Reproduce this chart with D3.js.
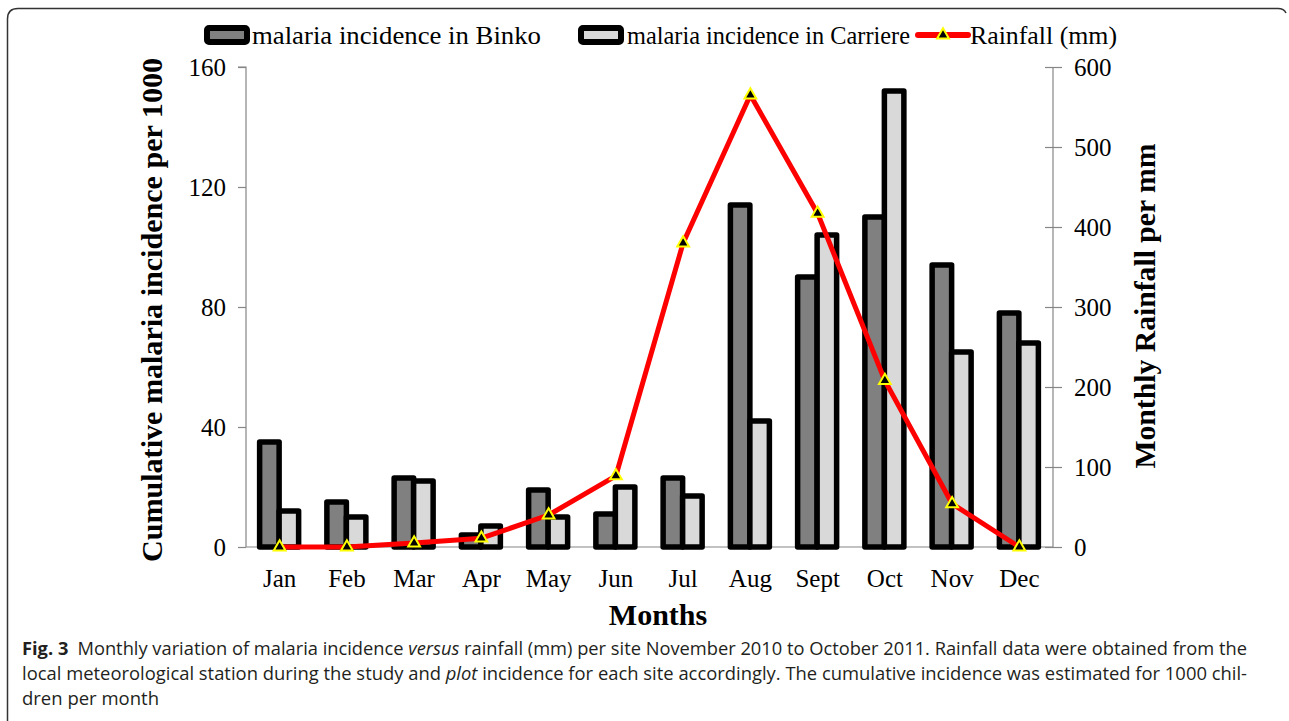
<!DOCTYPE html>
<html><head><meta charset="utf-8">
<script src="https://cdn.jsdelivr.net/npm/d3@7"></script>
<style>body{margin:0;background:#fff}svg{display:block}</style>
</head><body>
<svg id="c" width="1289" height="721"></svg>
<script>
const months = ["Jan","Feb","Mar","Apr","May","Jun","Jul","Aug","Sept","Oct","Nov","Dec"];
const binko = [35,15,23,4,19,11,23,114,90,110,94,78];
const carriere = [12,10,22,7,10,20,17,42,104,152,65,68];
const rainfall = [0,0,5,11,40,89,380,565,417,208,54,0];
const leftTicks = [0,40,80,120,160];
const rightTicks = [0,100,200,300,400,500,600];
const seriesNames = ["malaria incidence in Binko","malaria incidence in Carriere","Rainfall (mm)"];

const svg = d3.select("#c");
const serif = "'Liberation Serif','Times New Roman',serif";
const L = 246, R = 1053, T = 67, B = 547;

const x = d3.scaleBand().domain(months).range([L, R]).padding(0);
const sub = d3.scaleBand().domain(["b","c"]).range([-20, 19]);
const y = d3.scaleLinear().domain([0,160]).range([B, T]);
const y2 = d3.scaleLinear().domain([0,600]).range([B, T]);

// frame
svg.append("path").attr("d","M7.5,721 L7.5,19 Q7.5,8.5 18,8.5 L1278,8.5 Q1284,8.5 1286,13")
  .attr("fill","none").attr("stroke","#333").attr("stroke-width",1.5);

// axes
const axColor = "#868686";
const gl = svg.append("g").attr("transform",`translate(${L},0)`)
  .call(d3.axisLeft(y).tickValues(leftTicks).tickSize(8).tickPadding(12));
const gr = svg.append("g").attr("transform",`translate(${R},0)`)
  .call(d3.axisRight(y2).tickValues(rightTicks).tickSize(9).tickPadding(12));
gr.selectAll(".tick line").attr("x1",-8);
const gb = svg.append("g").attr("transform",`translate(0,${B})`)
  .call(d3.axisBottom(x).tickSize(0).tickPadding(22));
[gl,gr,gb].forEach(g=>{
  g.select(".domain").attr("stroke",axColor).attr("stroke-width",1.2);
  g.selectAll(".tick line").attr("stroke",axColor).attr("stroke-width",1.2);
  g.selectAll(".tick text").attr("font-family",serif).attr("font-size",25).attr("fill","#000");
});
gl.select(".domain").attr("d",`M-8,${T}H0V${B}`);
gr.select(".domain").attr("d",`M0,${T}V${B}`);
gb.select(".domain").attr("d",`M${L},0H${R}`);
gb.selectAll(".tick text").attr("dy","0.71em");

// bars
const barStroke = 5.5;
svg.append("g").selectAll("rect").data(binko).join("rect")
  .attr("x",(d,i)=>x(months[i])+x.bandwidth()/2+sub("b"))
  .attr("width",sub.bandwidth())
  .attr("y",d=>y(d)).attr("height",d=>B-y(d))
  .attr("fill","#808080").attr("stroke","#000").attr("stroke-width",barStroke).attr("stroke-linejoin","round");
svg.append("g").selectAll("rect").data(carriere).join("rect")
  .attr("x",(d,i)=>x(months[i])+x.bandwidth()/2+sub("c"))
  .attr("width",sub.bandwidth())
  .attr("y",d=>y(d)).attr("height",d=>B-y(d))
  .attr("fill","#d9d9d9").attr("stroke","#000").attr("stroke-width",barStroke).attr("stroke-linejoin","round");

// rainfall line
const line = d3.line().x((d,i)=>x(months[i])+x.bandwidth()/2).y(d=>y2(d));
svg.append("path").datum(rainfall).attr("d",line)
  .attr("fill","none").attr("stroke","#ff0000").attr("stroke-width",5).attr("stroke-linejoin","round");
const tri = d3.symbol().type(d3.symbolTriangle).size(60);
svg.append("g").selectAll("path").data(rainfall).join("path")
  .attr("d",tri)
  .attr("transform",(d,i)=>`translate(${x(months[i])+x.bandwidth()/2},${y2(d)})`)
  .attr("fill","#000").attr("stroke","#ffff00").attr("stroke-width",2);

// axis titles
svg.append("text").attr("transform","translate(162,310) rotate(-90)")
  .attr("text-anchor","middle").attr("font-family",serif).attr("font-weight","bold").attr("font-size",30)
  .attr("textLength",504).attr("lengthAdjust","spacingAndGlyphs")
  .text("Cumulative malaria incidence per 1000");
svg.append("text").attr("transform","translate(1155,306) rotate(-90)")
  .attr("text-anchor","middle").attr("font-family",serif).attr("font-weight","bold").attr("font-size",30)
  .attr("textLength",325).attr("lengthAdjust","spacingAndGlyphs")
  .text("Monthly Rainfall per mm");
svg.append("text").attr("x",658).attr("y",625)
  .attr("text-anchor","middle").attr("font-family",serif).attr("font-weight","bold").attr("font-size",30)
  .text("Months");

// legend
const lg = svg.append("g");
const legendItems = [
  {name:seriesNames[0], sx:207, tx:252, tl:289, fill:"#808080", kind:"bar"},
  {name:seriesNames[1], sx:581, tx:627, tl:283, fill:"#d9d9d9", kind:"bar"},
  {name:seriesNames[2], sx:918, tx:970, tl:147, kind:"line"}
];
legendItems.forEach(it=>{
  if(it.kind==="bar"){
    lg.append("rect").attr("x",it.sx).attr("y",28).attr("width",40).attr("height",14).attr("rx",2)
      .attr("fill",it.fill).attr("stroke","#000").attr("stroke-width",6);
  } else {
    lg.append("line").attr("x1",it.sx).attr("x2",it.sx+50).attr("y1",35).attr("y2",35)
      .attr("stroke","#ff0000").attr("stroke-width",6).attr("stroke-linecap","round");
    lg.append("path").attr("d",tri).attr("transform",`translate(${it.sx+25},35)`)
      .attr("fill","#000").attr("stroke","#ffff00").attr("stroke-width",2);
  }
  lg.append("text").attr("x",it.tx).attr("y",44).attr("font-family",serif).attr("font-size",26)
    .attr("textLength",it.tl).attr("lengthAdjust","spacingAndGlyphs").text(it.name);
});

// caption
const sans = "'Open Sans','Noto Sans',sans-serif";
const cap = svg.append("g").attr("font-family",sans).attr("font-size",18).attr("fill","#231f20");
const c1 = cap.append("text").attr("x",22).attr("y",655).attr("textLength",1225).attr("lengthAdjust","spacingAndGlyphs");
c1.append("tspan").attr("font-weight","bold").text("Fig. 3");
c1.append("tspan").text("\u2002Monthly variation of malaria incidence ");
c1.append("tspan").attr("font-style","italic").text("versus");
c1.append("tspan").text(" rainfall (mm) per site November 2010 to October 2011. Rainfall data were obtained from the");
const c2 = cap.append("text").attr("x",22).attr("y",680).attr("textLength",1225).attr("lengthAdjust","spacingAndGlyphs");
c2.append("tspan").text("local meteorological station during the study and ");
c2.append("tspan").attr("font-style","italic").text("plot");
c2.append("tspan").text(" incidence for each site accordingly. The cumulative incidence was estimated for 1000 chil-");
cap.append("text").attr("x",22).attr("y",705).attr("textLength",137).attr("lengthAdjust","spacingAndGlyphs").text("dren per month");
</script>
</body></html>
